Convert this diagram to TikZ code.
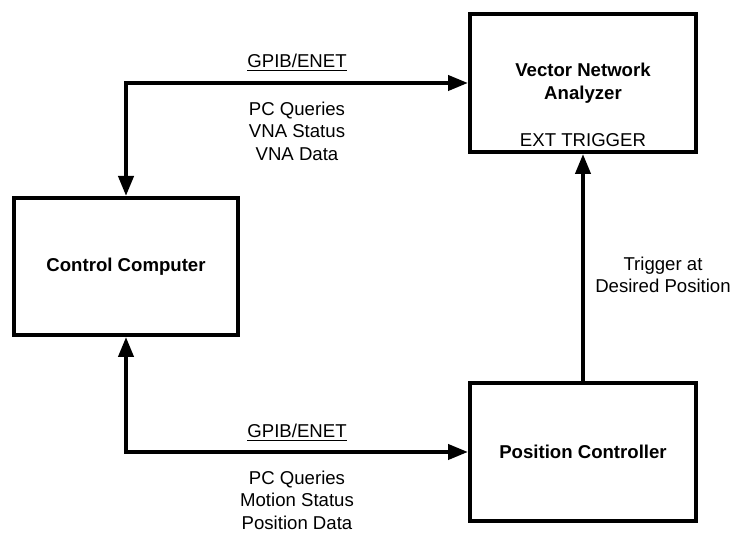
\documentclass[tikz,border=0pt]{standalone}
\usepackage{fontspec}
\setmainfont{Liberation Sans}
\usetikzlibrary{arrows.meta,positioning}
\tikzset{
    %Define standard arrow tip
    >={Triangle[length=10pt,width=7.5pt]},
    %Define style for boxes
    block/.style={
           rectangle,
           draw=black, line width=2pt,
           minimum width=112pt,
           minimum height=68.5pt,
           font=\fontsize{9.3}{11.3}\selectfont\bfseries,
           align=center},
    % Define style for labels
    lbl/.style={
           inner sep=0pt,
           font=\fontsize{9.3}{11.3}\selectfont,
           align=center},
    % Define arrow style
    pil/.style={
           line width=2pt}
}
\begin{document}
\begin{tikzpicture}[x=0.5pt,y=-0.5pt]
 \useasboundingbox (0,0) rectangle (735,533);

 %nodes
\node[block](cc) at (126,266.5){Control Computer};
\node[block, minimum width=113pt, minimum height=69pt](vna) at (583,83){Vector Network\\Analyzer};
\node[block, minimum width=113pt, minimum height=69pt](pc) at (583,452){Position Controller};
\node[lbl](ext) at (583,140){EXT TRIGGER};

 %labels
\node[lbl](bus1) at (297,63){\underline{GPIB/ENET}};
\node[lbl](msg1) at (297,131){PC Queries\\VNA Status\\VNA Data};
\node[lbl](bus2) at (297,433){\underline{GPIB/ENET}};
\node[lbl](msg2) at (297,500){PC Queries\\Motion Status\\Position Data};
\node[lbl](trig) at (663,275){Trigger at\\Desired Position};

 %connectors
\draw[pil,<->] (cc.north) |- (vna.west);
\draw[pil,<->] (cc.south) |- (pc.west);
\draw[pil,->] (pc.north) -- (vna.south);

\end{tikzpicture}
\end{document}
